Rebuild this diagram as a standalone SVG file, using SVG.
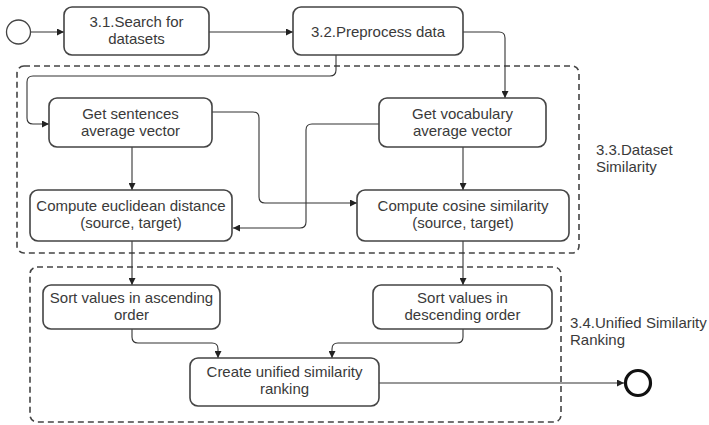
<svg xmlns="http://www.w3.org/2000/svg" width="709" height="425" viewBox="0 0 709 425">
<defs>
<marker id="ah" viewBox="0 0 10 10" refX="10" refY="5" markerWidth="7" markerHeight="7" markerUnits="userSpaceOnUse" orient="auto"><path d="M0,0 L10,5 L0,10 z" fill="#222"/></marker>
<style>
.box{fill:#fff;stroke:#444;stroke-width:1.6}
.grp{fill:none;stroke:#444;stroke-width:1.6;stroke-dasharray:6,4}
.t{font-family:"Liberation Sans",Arial,sans-serif;font-size:15px;fill:#3a3a3a;text-anchor:middle}
.lbl{font-family:"Liberation Sans",Arial,sans-serif;font-size:15px;fill:#3a3a3a}
.c{fill:none;stroke:#333;stroke-width:1.1;marker-end:url(#ah)}
</style>
</defs>
<rect width="709" height="425" fill="#fff"/>
<g id="group-3-3"><rect class="grp" x="17" y="66" width="562" height="187" rx="7"/><text class="lbl" x="596" y="155">3.3.Dataset</text><text class="lbl" x="596" y="172">Similarity</text></g>
<g id="group-3-4"><rect class="grp" x="30" y="267" width="531" height="155" rx="7"/><text class="lbl" x="570" y="328">3.4.Unified Similarity</text><text class="lbl" x="570" y="345">Ranking</text></g>
<g id="connectors">
<path class="c" d="M31,32 H64"/>
<path class="c" d="M209,32 H293"/>
<path class="c" d="M463,32 H499 Q505,32 505,38 V98"/>
<path class="c" d="M336,55 V70 Q336,76 330,76 H33 Q27,76 27,82 V118 Q27,124 33,124 H49"/>
<path class="c" d="M212,112 H253 Q259,112 259,118 V197 Q259,203 265,203 H357"/>
<path class="c" d="M379,124 H312 Q306,124 306,130 V222 Q306,228 300,228 H233"/>
<path class="c" d="M132,147 V190"/>
<path class="c" d="M463,147 V190"/>
<path class="c" d="M132,241 V285"/>
<path class="c" d="M463,241 V285"/>
<path class="c" d="M132,329 V337 Q132,343 138,343 H212 Q218,343 218,349 V358"/>
<path class="c" d="M463,329 V337 Q463,343 457,343 H338 Q332,343 332,349 V358"/>
<path class="c" d="M379,383 H624"/>
</g>
<g id="start"><circle cx="18.5" cy="32" r="12" fill="#fff" stroke="#444" stroke-width="1.3"/></g>
<g id="end"><circle cx="638" cy="383" r="12.5" fill="#fff" stroke="#111" stroke-width="3.2"/></g>
<g id="search"><rect class="box" x="64" y="7" width="145" height="48" rx="8"/><text class="t" x="136.5" y="27">3.1.Search for</text><text class="t" x="136.5" y="44">datasets</text></g>
<g id="preprocess"><rect class="box" x="293" y="7" width="170" height="48" rx="8"/><text class="t" x="378" y="37">3.2.Preprocess data</text></g>
<g id="sentences"><rect class="box" x="49" y="98" width="163" height="49" rx="8"/><text class="t" x="130.5" y="119">Get sentences</text><text class="t" x="130.5" y="136">average vector</text></g>
<g id="vocabulary"><rect class="box" x="379" y="98" width="167" height="49" rx="8"/><text class="t" x="462.5" y="119">Get vocabulary</text><text class="t" x="462.5" y="136">average vector</text></g>
<g id="euclidean"><rect class="box" x="30" y="190" width="202" height="51" rx="8"/><text class="t" x="131" y="211">Compute euclidean distance</text><text class="t" x="131" y="228">(source, target)</text></g>
<g id="cosine"><rect class="box" x="357" y="190" width="212" height="51" rx="8"/><text class="t" x="463" y="211">Compute cosine similarity</text><text class="t" x="463" y="228">(source, target)</text></g>
<g id="ascending"><rect class="box" x="43" y="285" width="177" height="44" rx="8"/><text class="t" x="131.5" y="303">Sort values in ascending</text><text class="t" x="131.5" y="320">order</text></g>
<g id="descending"><rect class="box" x="373" y="285" width="179" height="44" rx="8"/><text class="t" x="462.5" y="303">Sort values in</text><text class="t" x="462.5" y="320">descending order</text></g>
<g id="unified"><rect class="box" x="190" y="358" width="189" height="48" rx="8"/><text class="t" x="284.5" y="377">Create unified similarity</text><text class="t" x="284.5" y="394">ranking</text></g>
</svg>
